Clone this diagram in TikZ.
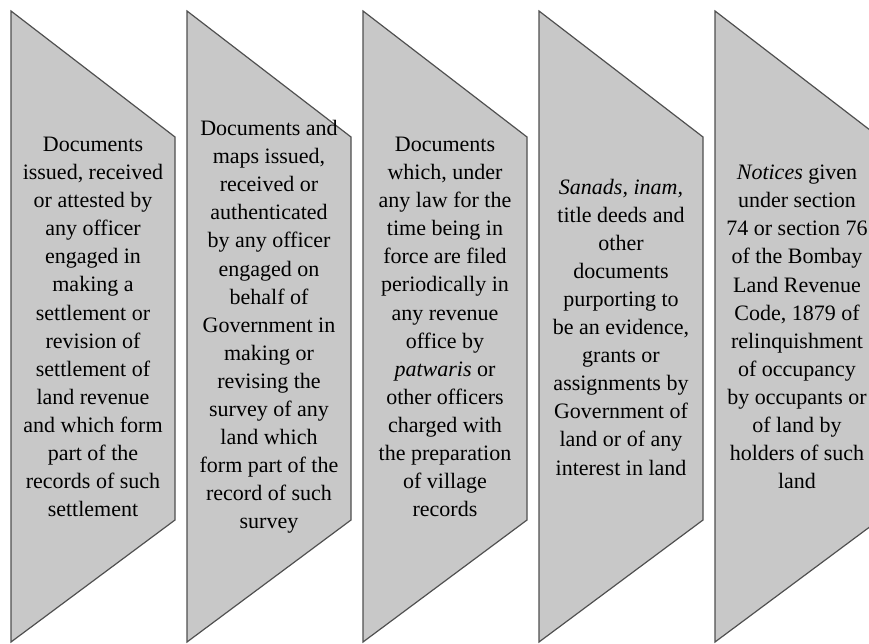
\documentclass[tikz,border=0pt]{standalone}
\usepackage{fontspec}
\setmainfont{Liberation Serif}
\definecolor{slate}{RGB}{200,200,200}
\definecolor{rim}{RGB}{80,80,80}

\begin{document}
\begin{tikzpicture}[x=1pt,y=1pt,
    chev/.style={draw=rim,fill=slate,line width=1.2pt,line join=miter},
    chevtext/.style={align=center,font=\fontsize{22}{28.1}\selectfont,inner sep=0pt}]
  \clip (0,0) rectangle (869,643);
  \foreach \i/\t in {
    0/{Documents\\issued, received\\or attested by\\any officer\\engaged in\\making a\\settlement or\\revision of\\settlement of\\land revenue\\and which form\\part of the\\records of such\\settlement},
    1/{Documents and\\maps issued,\\received or\\authenticated\\by any officer\\engaged on\\behalf of\\Government in\\making or\\revising the\\survey of any\\land which\\form part of the\\record of such\\survey},
    2/{Documents\\which, under\\any law for the\\time being in\\force are filed\\periodically in\\any revenue\\office by\\\textit{patwaris} or\\other officers\\charged with\\the preparation\\of village\\records},
    3/{\textit{Sanads, inam,}\\title deeds and\\other\\documents\\purporting to\\be an evidence,\\grants or\\assignments by\\Government of\\land or of any\\interest in land},
    4/{\textit{Notices} given\\under section\\74 or section 76\\of the Bombay\\Land Revenue\\Code, 1879 of\\relinquishment\\of occupancy\\by occupants or\\of land by\\holders of such\\land}}{
    \draw[chev] ({11+176*\i},632) -- ++(164,-126) -- ++(0,-383) -- ++(-164,-122) -- cycle;
    \node[chevtext] (doc\i) at ({93+176*\i},316) {\t};
  }
\end{tikzpicture}
\end{document}
